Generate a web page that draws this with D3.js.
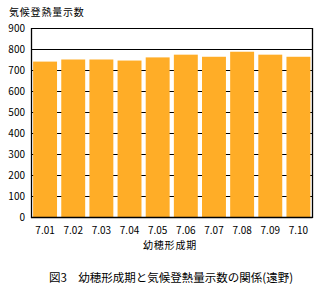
<!DOCTYPE html>
<html><head><meta charset="utf-8">
<script src="https://cdn.jsdelivr.net/npm/d3@7"></script>
<style>body{margin:0;background:#fff}svg{display:block}text{font-family:"Noto Sans CJK JP","Noto Sans",sans-serif;fill:#000}</style>
</head><body>
<script>
const categories = ["7.01","7.02","7.03","7.04","7.05","7.06","7.07","7.08","7.09","7.10"];
const values = [740,750,750,745,760,773,763,787,773,763];
const yTicks = [0,100,200,300,400,500,600,700,800,900];
const yTitle = "気候登熱量示数";
const xTitle = "幼穂形成期";
const caption = "図3　幼穂形成期と気候登熱量示数の関係(遠野)";

const W=326,H=285, L=31, R=312.5, T=28, B=217;
const svg=d3.select("body").append("svg").attr("width",W).attr("height",H);
const x=d3.scaleBand().domain(categories).range([L,R]).paddingInner(0.15).paddingOuter(0.075);
const y=d3.scaleLinear().domain([0,900]).range([B,T]);

// gridlines
svg.append("g").selectAll("line").data(yTicks.filter(d=>d>0)).join("line")
  .attr("x1",L).attr("x2",R).attr("y1",d=>Math.round(y(d))+0.5).attr("y2",d=>Math.round(y(d))+0.5)
  .attr("stroke","#000").attr("stroke-width",1.2);

// bars
svg.append("g").selectAll("rect").data(values).join("rect")
  .attr("x",(d,i)=>x(categories[i])).attr("width",x.bandwidth())
  .attr("y",d=>y(d)).attr("height",d=>B-y(d)).attr("fill","#FFAD27");

// frame
svg.append("line").attr("x1",L+0.5).attr("x2",L+0.5).attr("y1",T).attr("y2",B+1).attr("stroke","#000").attr("stroke-width",1.3);
svg.append("line").attr("x1",R).attr("x2",R).attr("y1",T).attr("y2",B+1).attr("stroke","#000").attr("stroke-width",1.3);
svg.append("line").attr("x1",L).attr("x2",R).attr("y1",B+0.5).attr("y2",B+0.5).attr("stroke","#000").attr("stroke-width",1.3);

// y labels
svg.append("g").selectAll("text").data(yTicks).join("text")
  .attr("x",25).attr("y",d=>y(d)+3.5).attr("text-anchor","end").attr("font-size",10).text(d=>d);
// x labels
svg.append("g").selectAll("text").data(categories).join("text")
  .attr("x",d=>x(d)+x.bandwidth()/2).attr("y",234).attr("text-anchor","middle").attr("font-size",10).text(d=>d);

svg.append("text").attr("x",9).attr("y",15.5).attr("font-size",10).attr("letter-spacing",0.8).text(yTitle);
svg.append("text").attr("x",170).attr("y",249).attr("text-anchor","middle").attr("font-size",10).attr("letter-spacing",0.8).text(xTitle);
svg.append("text").attr("x",171).attr("y",282).attr("text-anchor","middle").attr("font-size",11.5).text(caption);
</script>
</body></html>
